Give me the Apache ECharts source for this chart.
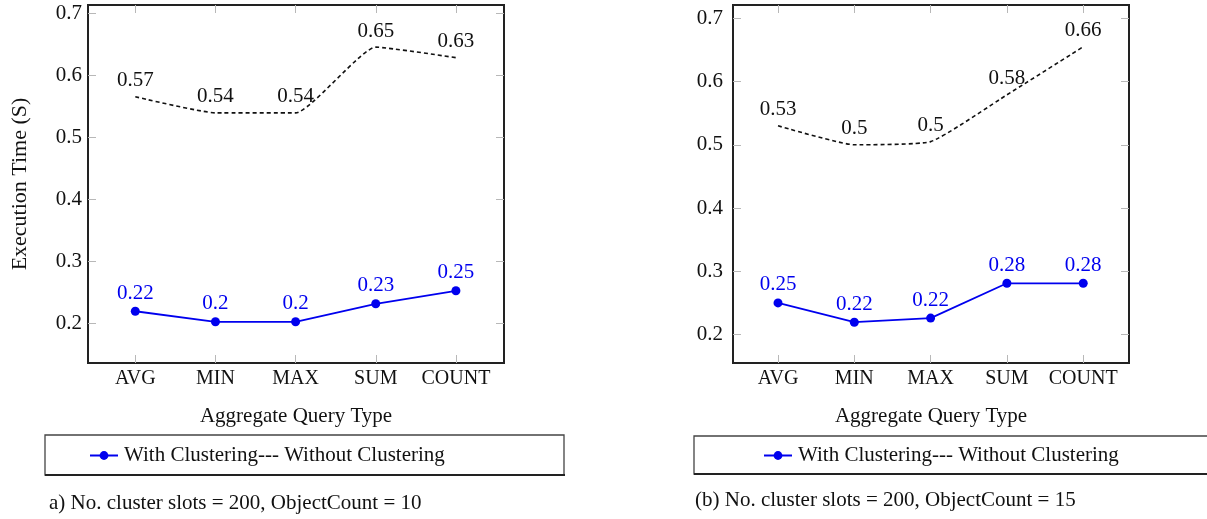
<!DOCTYPE html>
<html>
<head>
<meta charset="utf-8">
<script src="https://cdn.jsdelivr.net/npm/echarts@6/dist/echarts.min.js"></script>
<style>
html,body{margin:0;padding:0;background:#fff;}
#c{width:1207px;height:519px;}
</style>
</head>
<body>
<div id="c"></div>
<script>
const categories = ['AVG', 'MIN', 'MAX', 'SUM', 'COUNT'];
const yTicks = [0.2, 0.3, 0.4, 0.5, 0.6, 0.7];

// Chart (a): ObjectCount = 10
const withA = [0.219, 0.202, 0.202, 0.231, 0.252];
const withALabels = ['0.22', '0.2', '0.2', '0.23', '0.25'];
const withoutA = [0.565, 0.539, 0.539, 0.645, 0.628];
const withoutALabels = ['0.57', '0.54', '0.54', '0.65', '0.63'];

// Chart (b): ObjectCount = 15
const withB = [0.25, 0.2195, 0.226, 0.281, 0.281];
const withBLabels = ['0.25', '0.22', '0.22', '0.28', '0.28'];
const withoutB = [0.53, 0.5, 0.505, 0.579, 0.655];
const withoutBLabels = ['0.53', '0.5', '0.5', '0.58', '0.66'];

const seriesNameWith = 'With Clustering';
const seriesNameWithout = 'Without Clustering';
const xAxisTitle = 'Aggregate Query Type';
const yAxisTitle = 'Execution Time (S)';
const captionA = 'a) No. cluster slots = 200, ObjectCount = 10';
const captionB = '(b) No. cluster slots = 200, ObjectCount = 15';

const FONT = 'Liberation Serif';
const BLUE = '#0000ee';
const TICK = '#b8b8b8';
const catIdx = categories.map((c, i) => i);

function xAxes(gridIndex) {
  const base = {
    type: 'value', gridIndex, min: -0.59, max: 4.6,
    splitLine: { show: false }, axisLine: { show: false, onZero: false }
  };
  return [
    Object.assign({}, base, {
      position: 'bottom',
      axisTick: { show: true, inside: true, length: 8, customValues: catIdx, lineStyle: { color: TICK, width: 1 } },
      axisLabel: { show: true, customValues: catIdx, formatter: v => categories[Math.round(v)], color: '#111', fontFamily: FONT, fontSize: 20, margin: 6 },
      name: xAxisTitle, nameLocation: 'middle', nameGap: 43,
      nameTextStyle: { color: '#111', fontFamily: FONT, fontSize: 21 }
    }),
    Object.assign({}, base, {
      position: 'top',
      axisTick: { show: true, inside: true, length: 8, customValues: catIdx, lineStyle: { color: TICK, width: 1 } },
      axisLabel: { show: false }
    })
  ];
}

function yAxes(gridIndex, min, max, withName, margin) {
  const base = {
    type: 'value', gridIndex, min, max,
    splitLine: { show: false }, axisLine: { show: false, onZero: false }
  };
  const left = Object.assign({}, base, {
    position: 'left',
    axisTick: { show: true, inside: true, length: 8, customValues: yTicks, lineStyle: { color: TICK, width: 1 } },
    axisLabel: { show: true, customValues: yTicks, formatter: v => String(Math.round(v * 10) / 10), color: '#111', fontFamily: FONT, fontSize: 21, margin }
  });
  if (withName) {
    Object.assign(left, {
      name: yAxisTitle, nameLocation: 'middle', nameGap: 57, nameRotate: 90,
      nameTextStyle: { color: '#111', fontFamily: FONT, fontSize: 22 }
    });
  }
  return [
    left,
    Object.assign({}, base, {
      position: 'right',
      axisTick: { show: true, inside: true, length: 8, customValues: yTicks, lineStyle: { color: TICK, width: 1 } },
      axisLabel: { show: false }
    })
  ];
}

function makeSeries(xi, yi, withVals, withLabels, withoutVals, withoutLabels) {
  return [
    {
      name: seriesNameWithout, type: 'line', xAxisIndex: xi, yAxisIndex: yi,
      data: categories.map((c, i) => [i, withoutVals[i]]),
      smooth: 0.15, symbol: 'circle', symbolSize: 1, showSymbol: true,
      lineStyle: { color: '#111', width: 1.6, type: [4, 3] },
      itemStyle: { color: 'rgba(0,0,0,0)' },
      label: { show: true, position: 'top', distance: 5, color: '#111', fontFamily: FONT, fontSize: 21,
        formatter: p => withoutLabels[p.dataIndex] },
      z: 3
    },
    {
      name: seriesNameWith, type: 'line', xAxisIndex: xi, yAxisIndex: yi,
      data: categories.map((c, i) => [i, withVals[i]]),
      symbol: 'circle', symbolSize: 9,
      lineStyle: { color: BLUE, width: 1.8 },
      itemStyle: { color: BLUE },
      label: { show: true, position: 'top', distance: 3, color: BLUE, fontFamily: FONT, fontSize: 21,
        formatter: p => withLabels[p.dataIndex] },
      z: 4
    }
  ];
}

const legendCommon = {
  data: [seriesNameWith], itemWidth: 28, itemHeight: 11, itemGap: 0,
  formatter: name => name + '--- ' + seriesNameWithout,
  textStyle: { color: '#111', fontFamily: FONT, fontSize: 21, padding: [0, 0, 0, 1] },
  selectedMode: false, padding: 0
};

const option = {
  animation: false,
  backgroundColor: '#fff',
  grid: [
    { left: 88, top: 5, width: 416, height: 358, show: true, borderColor: '#222', borderWidth: 2, backgroundColor: 'transparent' },
    { left: 733, top: 5, width: 396, height: 358, show: true, borderColor: '#222', borderWidth: 2, backgroundColor: 'transparent' }
  ],
  xAxis: [...xAxes(0), ...xAxes(1)],
  yAxis: [...yAxes(0, 0.1355, 0.713, true, 6), ...yAxes(1, 0.155, 0.721, false, 10)],
  series: [
    ...makeSeries(0, 0, withA, withALabels, withoutA, withoutALabels),
    ...makeSeries(2, 2, withB, withBLabels, withoutB, withoutBLabels)
  ],
  legend: [
    Object.assign({}, legendCommon, { left: 89, top: 445 }),
    Object.assign({}, legendCommon, { left: 763, top: 445 })
  ],
  graphic: [
    { type: 'rect', shape: { x: 45, y: 435, width: 519, height: 40 }, style: { fill: 'none', stroke: '#444', lineWidth: 1.3 } },
    { type: 'line', shape: { x1: 45, y1: 475, x2: 565, y2: 475 }, style: { stroke: '#222', lineWidth: 2.2 } },
    { type: 'rect', shape: { x: 694, y: 436, width: 530, height: 38 }, style: { fill: 'none', stroke: '#444', lineWidth: 1.3 } },
    { type: 'line', shape: { x1: 694, y1: 474, x2: 1207, y2: 474 }, style: { stroke: '#222', lineWidth: 2.2 } },
    { type: 'text', style: { text: captionA, x: 49, y: 503, verticalAlign: 'middle', font: '21px "Liberation Serif"', fill: '#111' } },
    { type: 'text', style: { text: captionB, x: 695, y: 500, verticalAlign: 'middle', font: '21px "Liberation Serif"', fill: '#111' } }
  ]
};

const chart = echarts.init(document.getElementById('c'), null, { renderer: 'canvas' });
chart.setOption(option);
</script>
</body>
</html>
